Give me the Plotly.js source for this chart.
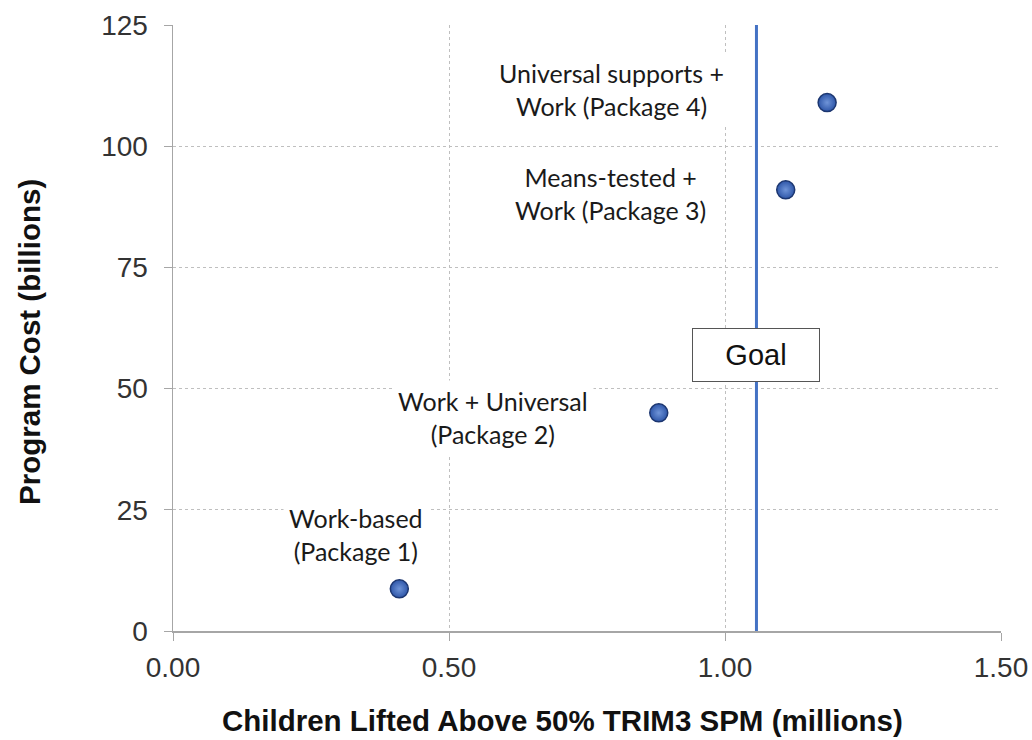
<!DOCTYPE html>
<html><head><meta charset="utf-8">
<script src="https://cdn.plot.ly/plotly-3.0.1.min.js"></script>
<style>body{margin:0;background:#fff}#chart{width:1032px;height:740px}</style>
</head><body><div id="chart"></div>
<script>
const packages = ["Work-based<br>(Package 1)", "Work + Universal<br>(Package 2)", "Means-tested +<br>Work (Package 3)", "Universal supports +<br>Work (Package 4)"];
const childrenLifted = [0.41, 0.88, 1.11, 1.185];
const programCost = [8.7, 45, 91, 109];
const labelX = [0.332, 0.58, 0.792, 0.795];
const labelY = [20, 44, 90.3, 111.6];
const goalValue = 1.057;
const goalLabel = "Goal";
const goalLabelY = 57;
const xTicks = [0, 0.5, 1.0, 1.5];
const xTickText = ["0.00", "0.50", "1.00", "1.50"];
const yTicks = [0, 25, 50, 75, 100, 125];
const xTitle = "Children Lifted Above 50% TRIM3 SPM (millions)";
const yTitle = "Program Cost (billions)";

const traces = [
  {x:[goalValue, goalValue], y:[0,125], mode:'lines', line:{color:'#4472c4', width:3}, hoverinfo:'skip', showlegend:false},
  {x: childrenLifted, y: programCost, mode:'markers', showlegend:false,
   marker:{size:18, color:'#2e56a8', line:{color:'#1c3670', width:1.5}, gradient:{type:'radial', color:'#6f94d8'}}}
];

const annotations = packages.map((p,i)=>({
  x: labelX[i], y: labelY[i], xref:'x', yref:'y', text: p, showarrow:false,
  font:{family:'Lato, "Open Sans", sans-serif', size:25, color:'#1a1a1a'},
  bgcolor:'#fff', borderpad:5, align:'center'
}));
annotations.push({x: goalValue, y: goalLabelY, xref:'x', yref:'y', text: goalLabel, showarrow:false,
  font:{family:'"Liberation Sans", Arial, sans-serif', size:29, color:'#111'},
  bgcolor:'#fff', bordercolor:'#555', borderwidth:1, borderpad:9, width:108, height:34});
annotations.push({x: 0.471, y: -0.147, xref:'paper', yref:'paper', xanchor:'center', yanchor:'middle',
  text:'<b>'+xTitle+'</b>', showarrow:false, font:{size:29.5, color:'#111'}});
annotations.push({x: -0.1727, y: 0.477, xref:'paper', yref:'paper', xanchor:'center', yanchor:'middle',
  text:'<b>'+yTitle+'</b>', textangle:-90, showarrow:false, font:{size:29.5, color:'#111'}});

const layout = {
  width:1032, height:740,
  margin:{l:173, r:31, t:25, b:109},
  paper_bgcolor:'#fff', plot_bgcolor:'#fff',
  font:{family:'"Liberation Sans", Arial, sans-serif', color:'#222'},
  xaxis:{range:[0,1.5], tickvals:xTicks, ticktext:xTickText, showline:true, linecolor:'#a6a6a6', linewidth:1.5,
    ticks:'outside', ticklen:8, tickcolor:'#a6a6a6', showgrid:true, gridcolor:'#bfbfbf', griddash:'dot', gridwidth:1,
    tickfont:{size:28, color:'#333'}, zeroline:false, automargin:false, ticklabelstandoff:3},
  yaxis:{range:[0,125], tickvals:yTicks, showline:true, linecolor:'#a6a6a6', linewidth:1.5,
    ticks:'outside', ticklen:8, tickcolor:'#a6a6a6', showgrid:true, gridcolor:'#bfbfbf', griddash:'dot', gridwidth:1,
    tickfont:{size:28, color:'#333'}, zeroline:false, automargin:false, ticklabelstandoff:10},
  annotations: annotations
};
Plotly.newPlot('chart', traces, layout, {displayModeBar:false, staticPlot:true});
</script></body></html>
